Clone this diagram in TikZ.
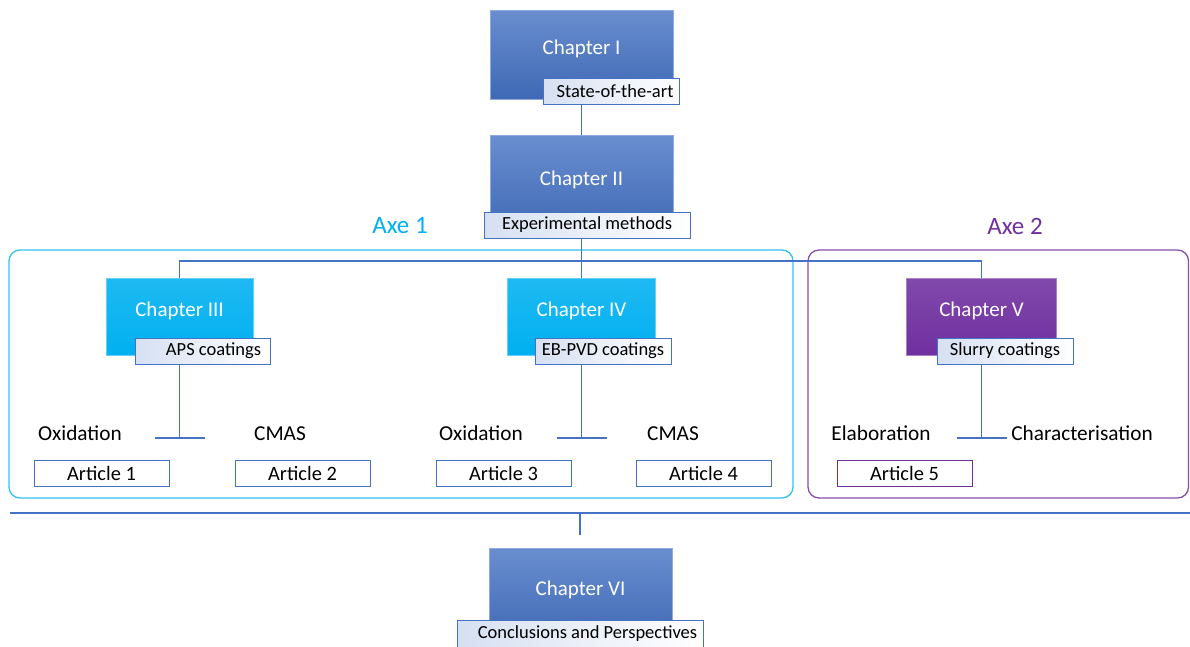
\documentclass[tikz,border=0pt]{standalone}
\usepackage{fontspec}
\setmainfont{Carlito}
\usepackage{tikz}
\usetikzlibrary{positioning}
\definecolor{chapblue}{HTML}{4472C4}
\definecolor{axecyan}{HTML}{00B0F0}
\definecolor{axepurple}{HTML}{7030A0}

\begin{document}
\begin{tikzpicture}[x=1pt,y=-1pt,line width=1.3pt,
  chapter node/.style={rectangle,draw=#1!60!white,top color=#1!80!white,bottom color=#1!92!black,
    text=white,font=\fontsize{21}{25}\selectfont,minimum width=183pt,minimum height=89pt,
    text height=12pt,text depth=12pt,inner sep=0pt,line width=1pt},
  chapter node/.default=chapblue,
  flat chapter/.style={chapter node=#1,top color=#1!88!white,bottom color=#1},
  tag node/.style={rectangle,draw=chapblue,left color=chapblue!22,middle color=white,right color=white,
    font=\fontsize{18.5}{22}\selectfont,minimum width=136pt,minimum height=26pt,inner sep=0pt,line width=1pt},
  article node/.style={rectangle,draw=#1,fill=white,font=\fontsize{20.4}{24}\selectfont,
    minimum width=135pt,minimum height=26pt,inner sep=0pt,line width=1pt},
  article node/.default=chapblue,
  topic node/.style={font=\fontsize{21.3}{25}\selectfont,inner sep=0pt,text height=14pt,text depth=4pt},
  axe node/.style={font=\fontsize{25}{30}\selectfont,text=#1,inner sep=0pt},
  link/.style={draw=chapblue}]

  \useasboundingbox (0,0) rectangle (1190,646);

  \draw[axecyan!80!white,rounded corners=11pt] (9,250) rectangle (793,498);
  \draw[axepurple!85!white,rounded corners=11pt] (808,250) rectangle (1188.5,498);
  \node[axe node=axecyan] (axe1) at (400,226) {Axe 1};
  \node[axe node=axepurple] (axe2) at (1015,226) {Axe 2};

  \node[chapter node] (ch1) at (581.5,54.5) {Chapter I};
  \node[chapter node,minimum height=100pt] (ch2) at (581.5,185) {Chapter II};
  \node[flat chapter=axecyan,minimum width=147pt,minimum height=77pt] (ch3) at (179.5,316.5) {Chapter III};
  \node[flat chapter=axecyan,minimum width=148pt,minimum height=77pt] (ch4) at (581.5,316.5) {Chapter IV};
  \node[flat chapter=axepurple,minimum width=150pt,minimum height=77pt] (ch5) at (981.5,316.5) {Chapter V};
  \node[chapter node,minimum height=94pt] (ch6) at (580.5,595) {Chapter VI};

  \coordinate (hub) at (581.5,261);
  \coordinate (sub3) at (179.5,438);
  \coordinate (sub4) at (581.5,438);
  \coordinate (sub5) at (981.5,438);
  \coordinate (barl) at (10,513);
  \coordinate (barr) at (1190,513);
  \coordinate (bar) at (580,513);
  \coordinate (drop) at (580,535);

  \path[link]
    (ch1.south) edge (ch2.north)
    (ch2.south) edge (ch4.north)
    (ch3.south) edge (sub3)
    (ch4.south) edge (sub4)
    (ch5.south) edge (sub5)
    ([xshift=-25pt]sub3) edge ([xshift=25pt]sub3)
    ([xshift=-25pt]sub4) edge ([xshift=25pt]sub4)
    ([xshift=-25pt]sub5) edge ([xshift=25pt]sub5);
  \draw[link] (ch3.north) |- (hub) -| (ch5.north);
  \draw[link,line width=2.5pt] (barl) -- (barr) (bar) -- (drop);

  \node[tag node] (tag1) at (611,91.5) {\hspace{8pt}State-of-the-art};
  \node[tag node,minimum width=206pt] (tag2) at (587,225) {Experimental methods};
  \node[tag node,minimum width=135pt] (tag3) at (202.5,351) {\hspace{22pt}APS coatings};
  \node[tag node] (tag4) at (603,351) {EB-PVD coatings};
  \node[tag node] (tag5) at (1005,351) {Slurry coatings};
  \node[tag node,minimum width=246pt,minimum height=27pt] (tag6) at (580,633.5) {\hspace{15pt}Conclusions and Perspectives};

  \node[topic node] (oxi1) at (80,435) {Oxidation};
  \node[topic node] (cmas1) at (280,435) {CMAS};
  \node[topic node] (oxi2) at (481,435) {Oxidation};
  \node[topic node] (cmas2) at (673,435) {CMAS};
  \node[topic node] (elab) at (881,435) {Elaboration};
  \node[topic node] (charac) at (1082,435) {Characterisation};

  \node[article node] (art1) at (101.5,473) {Article 1};
  \node[article node] (art2) at (302.5,473) {Article 2};
  \node[article node] (art3) at (503.5,473) {Article 3};
  \node[article node] (art4) at (703.5,473) {Article 4};
  \node[article node=axepurple] (art5) at (904.5,473) {Article 5};
\end{tikzpicture}
\end{document}
